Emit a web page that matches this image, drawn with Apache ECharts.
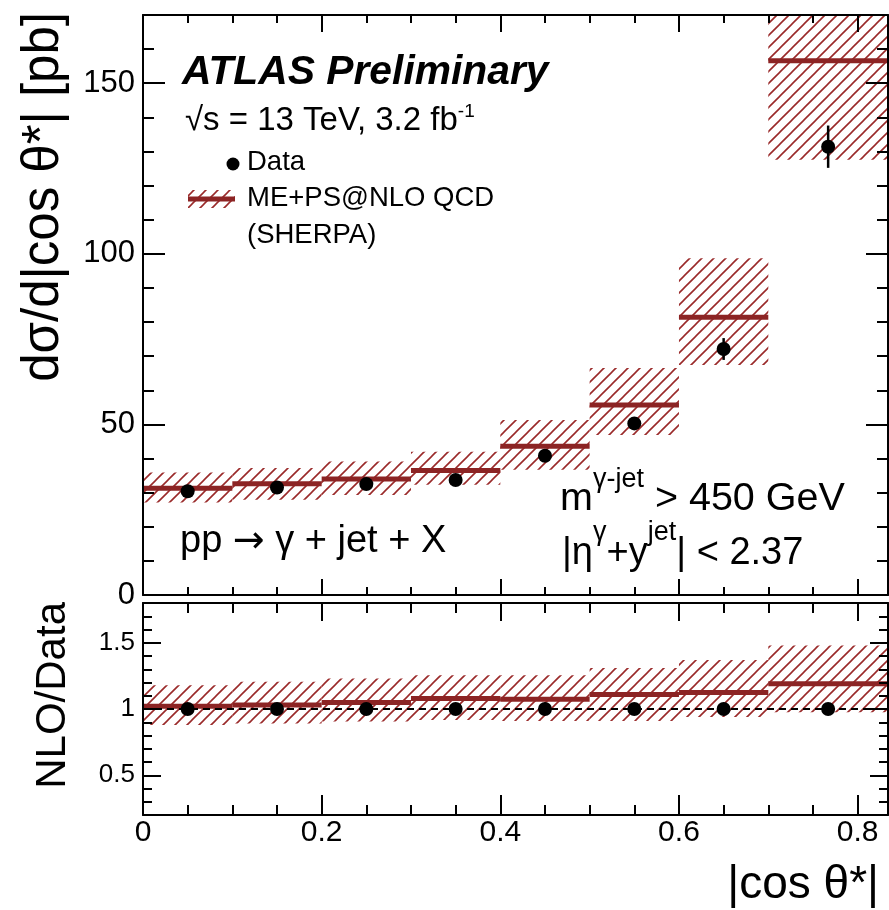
<!DOCTYPE html>
<html><head><meta charset="utf-8">
<script src="https://cdn.jsdelivr.net/npm/echarts@6/dist/echarts.min.js"></script>
<style>html,body{margin:0;padding:0;background:#fff}#c{width:889px;height:910px}</style>
</head><body><div id="c"></div>
<script>
// ---------- data ----------
const binLo = [0, 0.1, 0.2, 0.3, 0.4, 0.5, 0.6, 0.7];
const binHi = [0.1, 0.2, 0.3, 0.4, 0.5, 0.6, 0.7, 0.834];
const binCenter = [0.05, 0.15, 0.25, 0.35, 0.45, 0.55, 0.65, 0.767];
const dataXsec = [30.4, 31.5, 32.5, 33.7, 40.8, 50.3, 72.1, 131.4];
const dataErr = [0.5, 0.5, 0.6, 0.6, 0.8, 1.2, 3.2, 6.2];
const nloXsec = [31.3, 32.6, 34.0, 36.5, 43.6, 55.7, 81.4, 156.6];
const nloLow = [27.1, 27.9, 29.3, 32.3, 36.7, 46.9, 67.4, 127.6];
const nloHigh = [35.9, 37.2, 39.1, 42.0, 51.3, 66.5, 98.7, 194];
const ratioNlo = [1.02, 1.03, 1.05, 1.08, 1.073, 1.11, 1.125, 1.19];
const ratioLow = [0.88, 0.89, 0.905, 0.917, 0.91, 0.91, 0.94, 0.975];
const ratioHigh = [1.18, 1.205, 1.23, 1.255, 1.255, 1.31, 1.37, 1.48];
const ratioData = [1, 1, 1, 1, 1, 1, 1, 1];
const xMajor = [0, 0.2, 0.4, 0.6, 0.8];
const xMinor = [0.05, 0.1, 0.15, 0.25, 0.3, 0.35, 0.45, 0.5, 0.55, 0.65, 0.7, 0.75];
const yTopMajor = [0, 50, 100, 150];
const yTopMinor = [10, 20, 30, 40, 60, 70, 80, 90, 110, 120, 130, 140, 160];
const yBotMajor = [0.5, 1, 1.5];
const yBotMinor = [0.3, 0.4, 0.6, 0.7, 0.8, 0.9, 1.1, 1.2, 1.3, 1.4, 1.6, 1.7];

// ---------- styling ----------
const FF = '"Liberation Sans", Arial, Helvetica, sans-serif';
const FF2 = '"DejaVu Sans", "Liberation Sans", sans-serif';
const RED = '#8c2424';
const X_MAX = 0.834;

function makeHatch() {
  const s = 12, c = document.createElement('canvas');
  c.width = s; c.height = s;
  const g = c.getContext('2d');
  g.strokeStyle = '#9a2a2a'; g.lineWidth = 1.6;
  g.beginPath();
  g.moveTo(0, s); g.lineTo(s, 0);
  g.moveTo(-2, 2); g.lineTo(2, -2);
  g.moveTo(s - 2, s + 2); g.lineTo(s + 2, s - 2);
  g.stroke();
  return c;
}
const hatchCanvas = makeHatch();
const hatch = () => ({ image: hatchCanvas, repeat: 'repeat' });

function ax(gridIndex, position, min, max, ticks, len, line, labels, lsize, margin) {
  return {
    type: 'value', gridIndex, position, min, max, z: 10,
    axisLine: { show: line, onZero: false, lineStyle: { color: '#000', width: 2 } },
    axisTick: { show: true, inside: true, length: len, customValues: ticks, lineStyle: { color: '#000', width: 2 } },
    axisLabel: labels ? { show: true, customValues: labels, fontFamily: FF, fontSize: lsize, color: '#000', margin: margin } : { show: false },
    splitLine: { show: false }, minorTick: { show: false }, minorSplitLine: { show: false }
  };
}

const xAxes = [
  ax(0, 'bottom', 0, X_MAX, xMajor, 16, true, null),
  ax(0, 'bottom', 0, X_MAX, xMinor, 8, false, null),
  ax(0, 'top', 0, X_MAX, xMajor, 17, true, null),
  ax(0, 'top', 0, X_MAX, xMinor, 8, false, null),
  ax(1, 'bottom', 0, X_MAX, xMajor, 20, true, xMajor, 30, 3),
  ax(1, 'bottom', 0, X_MAX, xMinor, 10, false, null),
  ax(1, 'top', 0, X_MAX, xMajor, 18, true, null),
  ax(1, 'top', 0, X_MAX, xMinor, 10, false, null)
];
const yAxes = [
  ax(0, 'left', 0, 170, yTopMajor, 22, true, yTopMajor, 31, 8),
  ax(0, 'left', 0, 170, yTopMinor, 11, false, null),
  ax(0, 'right', 0, 170, yTopMajor, 22, true, null),
  ax(0, 'right', 0, 170, yTopMinor, 11, false, null),
  ax(1, 'left', 0.2, 1.8, yBotMajor, 18, true, yBotMajor, 26, 8),
  ax(1, 'left', 0.2, 1.8, yBotMinor, 9, false, null),
  ax(1, 'right', 0.2, 1.8, yBotMajor, 18, true, null),
  ax(1, 'right', 0.2, 1.8, yBotMinor, 9, false, null)
];

function clipTo(params, r) {
  const cs = params.coordSys;
  return echarts.graphic.clipRectByRect(r, { x: cs.x, y: cs.y, width: cs.width, height: cs.height });
}
function bandRender(params, api) {
  const a = api.coord([api.value(0), api.value(3)]);
  const b = api.coord([api.value(1), api.value(2)]);
  const r = clipTo(params, { x: a[0], y: a[1], width: b[0] - a[0], height: b[1] - a[1] });
  if (!r) return;
  return { type: 'rect', shape: r, style: { fill: hatch() } };
}
function stepRender(params, api) {
  const a = api.coord([api.value(0), api.value(2)]);
  const b = api.coord([api.value(1), api.value(2)]);
  return { type: 'line', shape: { x1: a[0], y1: a[1], x2: b[0], y2: b[1] }, style: { stroke: RED, lineWidth: 5 } };
}
function errRender(params, api) {
  const a = api.coord([api.value(0), api.value(1)]);
  const b = api.coord([api.value(0), api.value(2)]);
  return { type: 'line', shape: { x1: a[0], y1: a[1], x2: b[0], y2: b[1] }, style: { stroke: '#000', lineWidth: 2.5 } };
}

const pointStyle = { color: '#000', opacity: 1 };
const series = [
  { type: 'custom', xAxisIndex: 0, yAxisIndex: 0, z: 2, renderItem: bandRender,
    data: binLo.map((v, i) => [v, binHi[i], nloLow[i], nloHigh[i]]) },
  { type: 'custom', xAxisIndex: 0, yAxisIndex: 0, z: 3, renderItem: stepRender,
    data: binLo.map((v, i) => [v, binHi[i], nloXsec[i]]) },
  { type: 'custom', xAxisIndex: 0, yAxisIndex: 0, z: 4, renderItem: errRender,
    data: binCenter.map((c, i) => [c, dataXsec[i] - dataErr[i], dataXsec[i] + dataErr[i]]) },
  { type: 'scatter', xAxisIndex: 0, yAxisIndex: 0, z: 5, symbol: 'circle', symbolSize: 14,
    itemStyle: pointStyle, data: binCenter.map((c, i) => [c, dataXsec[i]]) },

  { type: 'custom', xAxisIndex: 4, yAxisIndex: 4, z: 2, renderItem: bandRender,
    data: binLo.map((v, i) => [v, binHi[i], ratioLow[i], ratioHigh[i]]) },
  { type: 'custom', xAxisIndex: 4, yAxisIndex: 4, z: 3, renderItem: stepRender,
    data: binLo.map((v, i) => [v, binHi[i], ratioNlo[i]]) },
  { type: 'scatter', xAxisIndex: 4, yAxisIndex: 4, z: 5, symbol: 'circle', symbolSize: 14,
    itemStyle: pointStyle, data: binCenter.map((c, i) => [c, ratioData[i]]),
    markLine: { silent: true, symbol: 'none', label: { show: false }, z: 4,
      lineStyle: { color: '#000', width: 2, type: [7, 5], opacity: 1 }, data: [{ yAxis: 1 }] } }
];

// ---------- text helpers ----------
const mctx = document.createElement('canvas').getContext('2d');
function fontStr(p) { return (p.style || 'normal') + ' ' + (p.weight || 'normal') + ' ' + p.size + 'px ' + (p.family || FF); }
function row(x, base, pieces) {
  const out = []; let cx = x;
  pieces.forEach(p => {
    const font = fontStr(p);
    out.push({ type: 'text', x: cx, y: base - (p.raise || 0) - 0.3465 * p.size, z: 100,
      style: { text: p.t, font: font, fill: '#000', align: 'left', verticalAlign: 'middle', textAlign: 'left', textVerticalAlign: 'middle' } });
    mctx.font = font; cx += mctx.measureText(p.t).width;
  });
  return out;
}
function rotText(x, yTop, t, size) {
  return { type: 'text', x: x, y: yTop, rotation: Math.PI / 2, z: 100,
    style: { text: t, font: 'normal normal ' + size + 'px ' + FF, fill: '#000', align: 'right', verticalAlign: 'middle', textAlign: 'right', textVerticalAlign: 'middle' } };
}

const graphics = [].concat(
  row(182, 87, [{ t: 'ATLAS Preliminary', size: 40.8, weight: 'bold', style: 'italic' }]),
  row(185, 132, [{ t: '√s = 13 TeV, 3.2 fb', size: 33 }, { t: '-1', size: 19, raise: 14 }]),
  row(247, 172, [{ t: 'Data', size: 27.5 }]),
  row(247, 208, [{ t: 'ME+PS@NLO QCD', size: 27.5 }]),
  row(247, 245, [{ t: '(SHERPA)', size: 27.5 }]),
  row(180, 555, [{ t: 'pp ', size: 38 }, { t: '→', size: 38, family: FF2 }, { t: ' γ + jet + X', size: 38 }]),
  row(560, 513, [{ t: 'm', size: 39.5 }, { t: 'γ-jet', size: 27, raise: 24 }, { t: ' > 450 GeV', size: 39.5 }]),
  row(562, 567, [{ t: '|η', size: 38 }, { t: 'γ', size: 27, raise: 25 }, { t: '+y', size: 38 }, { t: 'jet', size: 27, raise: 25 }, { t: '| < 2.37', size: 38 }]),
  [
    rotText(44, 12, 'dσ/d|cos θ*| [pb]', 51),
    rotText(53, 602, 'NLO/Data', 42),
    { type: 'text', x: 879, y: 901 - 0.3465 * 46, z: 100,
      style: { text: '|cos θ*|', font: 'normal normal 46px ' + FF, fill: '#000', align: 'right', verticalAlign: 'middle', textAlign: 'right', textVerticalAlign: 'middle' } },
    { type: 'circle', shape: { cx: 233, cy: 164, r: 6.5 }, style: { fill: '#000' }, z: 100 },
    { type: 'rect', shape: { x: 188, y: 190, width: 47, height: 18 }, style: { fill: hatch() }, z: 99 },
    { type: 'line', shape: { x1: 188, y1: 199, x2: 235, y2: 199 }, style: { stroke: RED, lineWidth: 5 }, z: 100 }
  ]
);

const chart = echarts.init(document.getElementById('c'), null, { renderer: 'canvas' });
chart.setOption({
  animation: false,
  backgroundColor: '#fff',
  grid: [
    { left: 143, top: 15, width: 745, height: 580, show: false },
    { left: 143, top: 603, width: 745, height: 212, show: false }
  ],
  xAxis: xAxes,
  yAxis: yAxes,
  series: series,
  graphic: graphics
});
</script></body></html>
